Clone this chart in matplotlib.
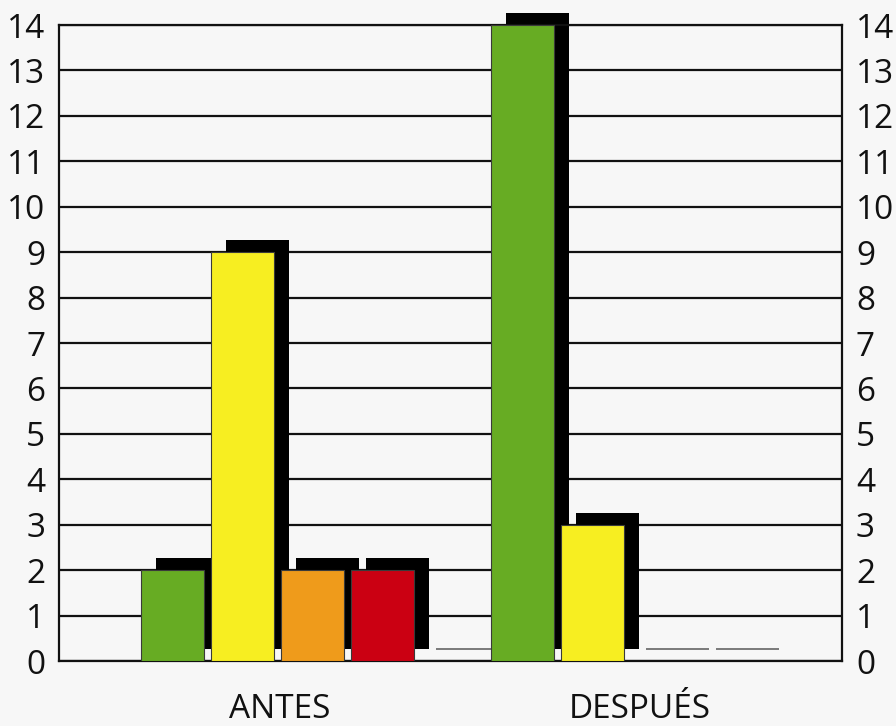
import matplotlib
matplotlib.use("Agg")
import matplotlib.pyplot as plt
from matplotlib.patches import Rectangle

plt.rcParams['font.family'] = ['Open Sans', 'DejaVu Sans']

# Data
categories = ["ANTES", "DESPUÉS"]
verde = [2, 14]
amarillo = [9, 3]
naranja = [2, 0]
rojo = [2, 0]
quinto = [0, None]
series = [verde, amarillo, naranja, rojo, quinto]
colors = ['#67ac23', '#f7ee21', '#ef9b1b', '#cb0012', '#9a9a9a']
y_ticks = list(range(0, 15))

# Layout / style
bg = '#f7f7f7'
bar_w = 0.9
slots_per_group = 5
shadow_dx = 0.214
shadow_dy = 0.264
label_x = [1.536, 6.671]

fig = plt.figure(figsize=(8.96, 7.26), dpi=100, facecolor=bg)
ax = fig.add_axes([59 / 896, 65 / 726, 783 / 896, 636 / 726], facecolor=bg)
ax.set_xlim(-1.621, 9.564)
ax.set_ylim(0, 14)

ax.set_yticks(y_ticks)
ax.yaxis.grid(True, color='#111111', linewidth=1.6, zorder=0)
ax.set_axisbelow(True)
ax.set_xticks([])
for sp in ax.spines.values():
    sp.set_linewidth(1.6)
    sp.set_color('#111111')
ax.tick_params(axis='y', length=0, labelsize=24, labelright=True,
               labelleft=True, pad=10, labelcolor='#111111')

for g, cat in enumerate(categories):
    for s, vals in enumerate(series):
        v = vals[g]
        if v is None:
            continue
        x = slots_per_group * g + s
        left = x - bar_w / 2
        if v == 0:
            ax.plot([left + shadow_dx, left + shadow_dx + bar_w],
                    [shadow_dy, shadow_dy], color='#7a7a7a', lw=1.4,
                    solid_capstyle='butt', zorder=2)
            continue
        shadow = Rectangle((left + shadow_dx, shadow_dy), bar_w, v,
                           facecolor='black', edgecolor='none',
                           zorder=2, clip_on=False)
        ax.add_patch(shadow)
        ax.bar(x, v, width=bar_w, color=colors[s], edgecolor='#3a3a3a',
               linewidth=0.8, zorder=3)
    ax.text(label_x[g], -1.255, cat, ha='center', va='baseline',
            fontsize=24, color='#111111')

fig.savefig('out.png', dpi=100, facecolor=bg)
